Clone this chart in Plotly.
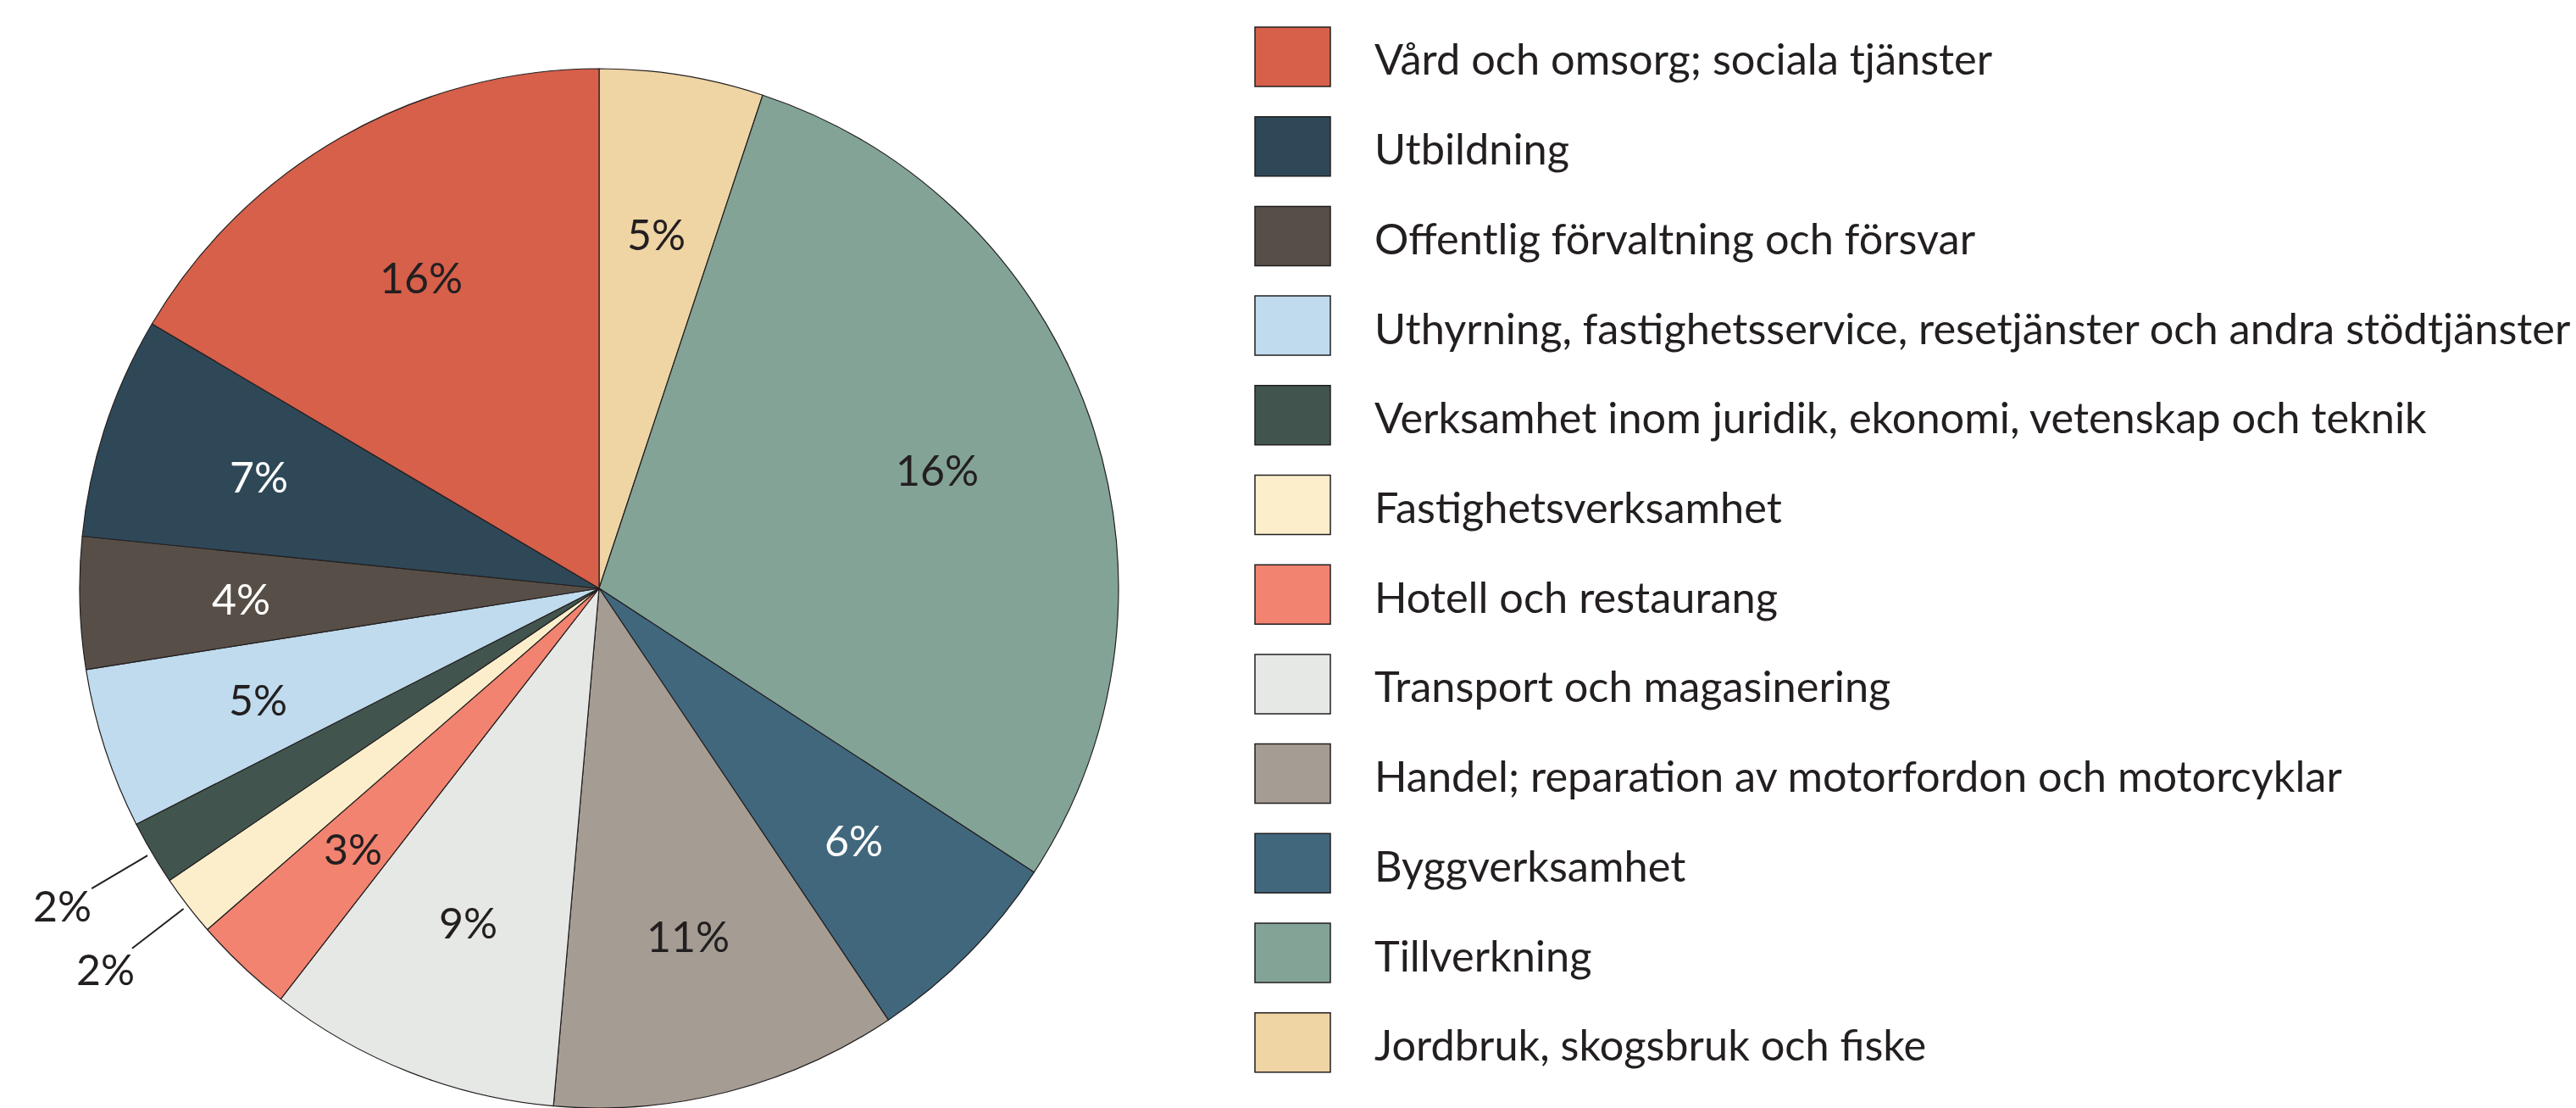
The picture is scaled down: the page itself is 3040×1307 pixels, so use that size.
import math
import plotly.graph_objects as go

categories = [
    "Vård och omsorg; sociala tjänster",
    "Utbildning",
    "Offentlig förvaltning och försvar",
    "Uthyrning, fastighetsservice, resetjänster och andra stödtjänster",
    "Verksamhet inom juridik, ekonomi, vetenskap och teknik",
    "Fastighetsverksamhet",
    "Hotell och restaurang",
    "Transport och magasinering",
    "Handel; reparation av motorfordon och motorcyklar",
    "Byggverksamhet",
    "Tillverkning",
    "Jordbruk, skogsbruk och fiske",
]
values = [16.5, 6.9, 4.1, 5.0, 2.0, 1.9, 3.1, 9.1, 10.8, 6.4, 29.1, 5.1]
value_labels = ["16%", "7%", "4%", "5%", "2%", "2%", "3%", "9%", "11%", "6%", "16%", "5%"]
colors = ["#D6604A", "#2F4858", "#574F47", "#BFDBED", "#42544E", "#FDEECB",
          "#F28370", "#E6E8E5", "#A59D94", "#41677D", "#83A397", "#EFD4A4"]
label_colors = ["#231F20", "#FFFFFF", "#FFFFFF", "#231F20", "#231F20", "#231F20",
                "#231F20", "#231F20", "#231F20", "#FFFFFF", "#231F20", "#231F20"]
label_outside = [False, False, False, False, True, True,
                 False, False, False, False, False, False]

FONT = "Lato"
TEXT = "#231F20"
W, H = 3040, 1307

# pie geometry (pixels): centre and radius
CX, CY, R = 707, 694, 613

fig = go.Figure()
# Slices listed clockwise from 12 o'clock (reverse of legend order)
fig.add_trace(go.Pie(
    labels=categories[::-1],
    values=values[::-1],
    textinfo="none",
    sort=False,
    direction="clockwise",
    rotation=0,
    marker=dict(colors=colors[::-1], line=dict(color=TEXT, width=1.2)),
    domain=dict(x=[(CX - R) / W, (CX + R) / W], y=[1 - (CY + R) / H, 1 - (CY - R) / H]),
    showlegend=False,
    hoverinfo="label+percent",
))


def to_paper(theta_deg, rad):
    t = math.radians(theta_deg)
    x = CX + rad * math.sin(t)
    y = CY - rad * math.cos(t)
    return x / W, 1 - y / H


# Value labels, placed at each slice's mid-angle (legend order runs counter-clockwise)
total = sum(values)
cum = 0.0
for v, lab, col, outside in zip(values, value_labels, label_colors, label_outside):
    mid = -(cum + v / 2) / total * 360.0
    cum += v
    if outside:
        x0, y0 = to_paper(mid, 1.01 * R)
        x1, y1 = to_paper(mid, 1.135 * R)
        fig.add_shape(type="line", xref="paper", yref="paper",
                      x0=x0, y0=y0, x1=x1, y1=y1,
                      line=dict(color=TEXT, width=2))
        tx, ty = to_paper(mid, 1.2 * R)
        fig.add_annotation(xref="paper", yref="paper", x=tx, y=ty, text=lab,
                           showarrow=False, xanchor="center", yanchor="middle",
                           font=dict(family=FONT, size=50, color=TEXT))
    else:
        tx, ty = to_paper(mid, 0.69 * R)
        fig.add_annotation(xref="paper", yref="paper", x=tx, y=ty, text=lab,
                           showarrow=False, xanchor="center", yanchor="middle",
                           font=dict(family=FONT, size=50, color=col))

# Custom legend with large swatches
top0 = 32
step = 105.7
sw_h = 70
for i, (cat, col) in enumerate(zip(categories, colors)):
    y0 = top0 + i * step
    y1 = y0 + sw_h
    fig.add_shape(type="rect", xref="paper", yref="paper",
                  x0=1481 / W, x1=1570 / W,
                  y0=1 - y1 / H, y1=1 - y0 / H,
                  fillcolor=col, line=dict(color=TEXT, width=1.5))
    fig.add_annotation(xref="paper", yref="paper",
                       x=1620 / W, y=1 - (y0 + sw_h / 2 + 2) / H,
                       text=cat, showarrow=False, xanchor="left", yanchor="middle",
                       font=dict(family=FONT, size=50.5, color=TEXT))

fig.update_layout(
    width=W, height=H,
    margin=dict(l=0, r=0, t=0, b=0),
    paper_bgcolor="white",
    plot_bgcolor="white",
    font=dict(family=FONT, color=TEXT),
)

fig.write_html(
    "out.html",
    config={"displayModeBar": False},
    post_script="document.body.style.margin='0';document.body.style.overflow='hidden';",
)
